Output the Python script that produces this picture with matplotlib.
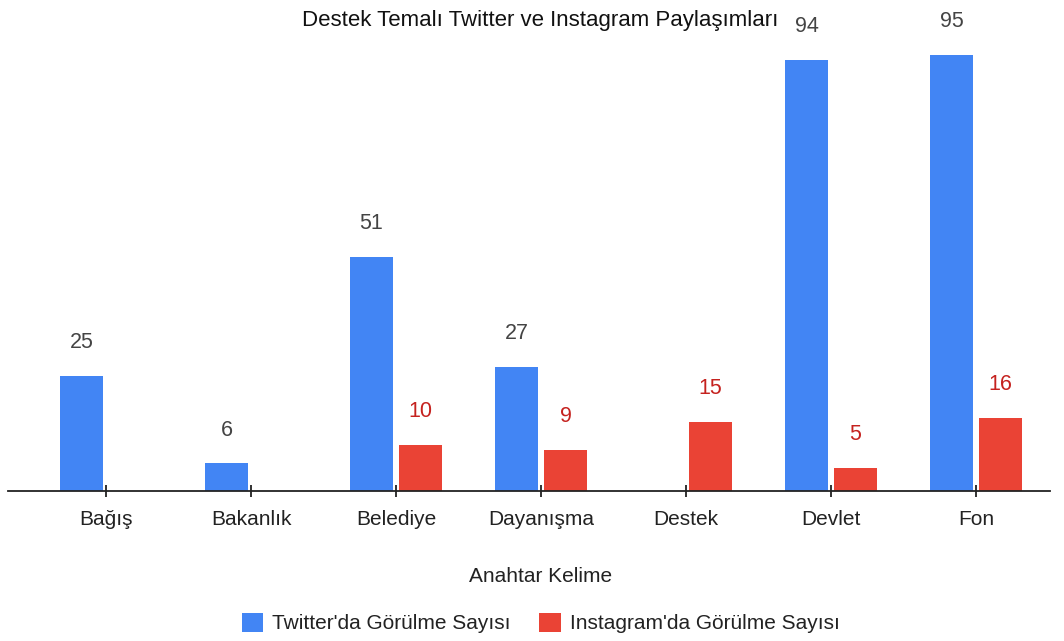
import matplotlib
matplotlib.use("Agg")
import matplotlib.pyplot as plt
import numpy as np

plt.rcParams['font.family'] = ['Liberation Sans', 'DejaVu Sans']

kategoriler = ['Bağış', 'Bakanlık', 'Belediye', 'Dayanışma', 'Destek', 'Devlet', 'Fon']
twitter = [25, 6, 51, 27, 0, 94, 95]
instagram = [0, 0, 10, 9, 15, 5, 16]
seri_adlari = ["Twitter'da Görülme Sayısı", "Instagram'da Görülme Sayısı"]

mavi = '#4285F4'
kirmizi = '#EA4335'

fig = plt.figure(figsize=(10.64, 6.41), dpi=100)
# eksen: taban cizgisi y=491 px, sol 8 px, sag 1050 px
ax = fig.add_axes([8 / 1064, (641 - 491) / 641, 1042 / 1064, (491 - 32) / 641])

x = np.arange(len(kategoriler))
w = 0.297
b1 = ax.bar(x - 0.169, twitter, width=w, color=mavi, label=seri_adlari[0])
b2 = ax.bar(x + 0.169, instagram, width=w, color=kirmizi, label=seri_adlari[1])

for rect, v in zip(b1, twitter):
    if v > 0:
        ax.annotate(str(v), (rect.get_x() + rect.get_width() / 2, v), xytext=(0, 24),
                    textcoords='offset points', ha='center', va='center',
                    fontsize=15.5, color='#444444')
for rect, v in zip(b2, instagram):
    if v > 0:
        ax.annotate(str(v), (rect.get_x() + rect.get_width() / 2, v), xytext=(0, 24),
                    textcoords='offset points', ha='center', va='center',
                    fontsize=15.5, color='#C5221F')

ax.set_xlim(-0.676, 6.51)
ax.set_ylim(0, 100)
for s in ['top', 'right', 'left']:
    ax.spines[s].set_visible(False)
ax.spines['bottom'].set_color('#222222')
ax.spines['bottom'].set_linewidth(1.3)
ax.set_yticks([])
ax.set_xticks(x)
ax.set_xticklabels(kategoriler, fontsize=15, color='#222222')
ax.tick_params(axis='x', direction='inout', length=9, width=1.3, color='#222222', pad=9)

fig.text(0.508, 0.968, 'Destek Temalı Twitter ve Instagram Paylaşımları', ha='center', va='center',
         fontsize=16, color='#111111')
fig.text(0.508, (641 - 576) / 641, 'Anahtar Kelime', ha='center', va='center',
         fontsize=15, color='#222222')

fig.legend(handles=[b1, b2], loc='center', bbox_to_anchor=(0.508, (641 - 623) / 641),
           ncol=2, frameon=False, fontsize=15, handlelength=1.05, handleheight=1.05,
           columnspacing=1.4, handletextpad=0.4, labelcolor='#222222')

fig.savefig('out.png', dpi=100)
